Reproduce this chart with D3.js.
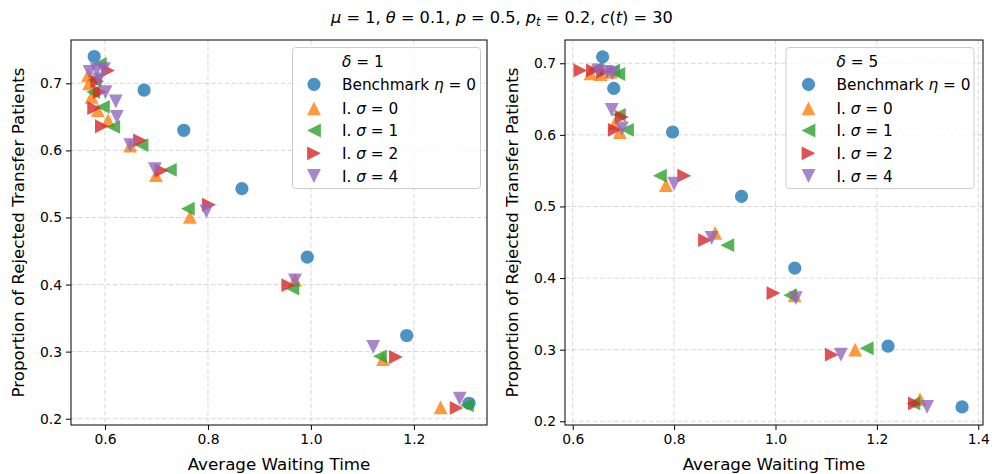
<!DOCTYPE html>
<html><head><meta charset="utf-8">
<script src="https://cdn.jsdelivr.net/npm/d3@7"></script>
<style>body{margin:0;background:#fff;} svg text{font-family:"DejaVu Sans",sans-serif;fill:#000;}</style>
</head><body>
<svg id="c" width="992" height="474"></svg>
<script>
// ---------- data ----------
const seriesNames = ["Benchmark", "I. σ = 0", "I. σ = 1", "I. σ = 2", "I. σ = 4"];
const seriesColors = ["#1f77b4", "#ff7f0e", "#2ca02c", "#d62728", "#9467bd"];
const seriesShapes = ["circle", "up", "left", "right", "down"];

// delta = 1 (left panel)
const benchLeftX = [0.579, 0.676, 0.753, 0.866, 0.993, 1.186, 1.307];
const benchLeftY = [0.740, 0.690, 0.630, 0.543, 0.441, 0.324, 0.223];
const s0LeftX = [0.567, 0.569, 0.574, 0.586, 0.606, 0.649, 0.699, 0.765, 0.969, 1.140, 1.252];
const s0LeftY = [0.712, 0.700, 0.680, 0.660, 0.645, 0.607, 0.563, 0.501, 0.407, 0.289, 0.217];
const s1LeftX = [0.590, 0.580, 0.577, 0.596, 0.616, 0.671, 0.726, 0.761, 0.964, 1.134, 1.303];
const s1LeftY = [0.729, 0.705, 0.687, 0.665, 0.635, 0.608, 0.571, 0.513, 0.394, 0.293, 0.220];
const s2LeftX = [0.606, 0.585, 0.590, 0.579, 0.594, 0.668, 0.710, 0.802, 0.956, 1.165, 1.283];
const s2LeftY = [0.719, 0.703, 0.687, 0.663, 0.636, 0.615, 0.570, 0.519, 0.399, 0.292, 0.216];
const s4LeftX = [0.570, 0.584, 0.598, 0.588, 0.601, 0.621, 0.623, 0.649, 0.697, 0.797, 0.969, 1.121, 1.289];
const s4LeftY = [0.717, 0.720, 0.721, 0.706, 0.687, 0.673, 0.650, 0.608, 0.572, 0.509, 0.406, 0.307, 0.230];

// delta = 5 (right panel)
const benchRightX = [0.659, 0.681, 0.797, 0.933, 1.038, 1.222, 1.368];
const benchRightY = [0.709, 0.665, 0.604, 0.514, 0.414, 0.305, 0.220];
const s0RightX = [0.635, 0.655, 0.675, 0.683, 0.693, 0.784, 0.881, 1.038, 1.157, 1.285];
const s0RightY = [0.686, 0.685, 0.688, 0.616, 0.604, 0.530, 0.463, 0.376, 0.300, 0.231];
const s1RightX = [0.645, 0.680, 0.690, 0.691, 0.707, 0.772, 0.905, 1.029, 1.180, 1.272];
const s1RightY = [0.692, 0.690, 0.685, 0.628, 0.607, 0.543, 0.446, 0.376, 0.302, 0.225];
const s2RightX = [0.615, 0.640, 0.660, 0.697, 0.683, 0.820, 0.861, 0.996, 1.111, 1.275];
const s2RightY = [0.690, 0.690, 0.688, 0.625, 0.607, 0.543, 0.453, 0.379, 0.293, 0.225];
const s4RightX = [0.650, 0.668, 0.678, 0.677, 0.697, 0.800, 0.874, 1.040, 1.129, 1.299];
const s4RightY = [0.690, 0.688, 0.686, 0.635, 0.609, 0.532, 0.456, 0.372, 0.293, 0.220];

// ticks
const leftXTicks = [0.6, 0.8, 1.0, 1.2];
const rightXTicks = [0.6, 0.8, 1.0, 1.2, 1.4];
const yTicks = [0.2, 0.3, 0.4, 0.5, 0.6, 0.7];

// ---------- drawing ----------
const svg = d3.select("#c");
const fmt = d3.format(".1f");
const ALPHA = 0.8;

function shapePath(shape, r) {
  if (shape === "up") return `M0,${-r}L${-r},${r}L${r},${r}Z`;
  if (shape === "down") return `M0,${r}L${-r},${-r}L${r},${-r}Z`;
  if (shape === "left") return `M${-r},0L${r},${-r}L${r},${r}Z`;
  if (shape === "right") return `M${r},0L${-r},${-r}L${-r},${r}Z`;
  return null;
}
function drawMarker(g, shape, color, cx, cy) {
  if (shape === "circle") {
    g.append("circle").attr("cx", cx).attr("cy", cy).attr("r", 6.6)
      .attr("fill", color).attr("fill-opacity", ALPHA);
  } else {
    g.append("path").attr("d", shapePath(shape, 6.9))
      .attr("transform", `translate(${cx},${cy})`)
      .attr("fill", color).attr("fill-opacity", ALPHA);
  }
}

function panel(o) {
  const x = d3.scaleLinear().domain(o.xDomain).range([o.left, o.right]);
  const y = d3.scaleLinear().domain(o.yDomain).range([o.bottom, o.top]);
  const g = svg.append("g");

  // grid
  g.append("g").selectAll("line").data(o.xTicks).join("line")
    .attr("x1", d => x(d)).attr("x2", d => x(d)).attr("y1", o.top).attr("y2", o.bottom)
    .attr("stroke", "#b0b0b0").attr("stroke-opacity", 0.55).attr("stroke-width", 0.9)
    .attr("stroke-dasharray", "4.5,2.5");
  g.append("g").selectAll("line").data(o.yTicks).join("line")
    .attr("x1", o.left).attr("x2", o.right).attr("y1", d => y(d)).attr("y2", d => y(d))
    .attr("stroke", "#b0b0b0").attr("stroke-opacity", 0.55).attr("stroke-width", 0.9)
    .attr("stroke-dasharray", "4.5,2.5");

  // markers
  o.series.forEach((s, i) => {
    const mg = g.append("g");
    s.xs.forEach((xv, j) => drawMarker(mg, seriesShapes[i], seriesColors[i], x(xv), y(s.ys[j])));
  });

  // axes
  const xa = g.append("g").attr("transform", `translate(0,${o.bottom})`)
    .call(d3.axisBottom(x).tickValues(o.xTicks).tickFormat(fmt).tickSize(5).tickSizeOuter(0).tickPadding(4));
  const ya = g.append("g").attr("transform", `translate(${o.left},0)`)
    .call(d3.axisLeft(y).tickValues(o.yTicks).tickFormat(fmt).tickSize(5).tickSizeOuter(0).tickPadding(4));
  [xa, ya].forEach(a => {
    a.select(".domain").remove();
    a.selectAll("text").attr("font-size", 13.9).attr("font-family", "DejaVu Sans").attr("fill", "#000");
    a.selectAll("line").attr("stroke", "#000").attr("stroke-width", 1);
  });
  g.append("rect").attr("x", o.left).attr("y", o.top)
    .attr("width", o.right - o.left).attr("height", o.bottom - o.top)
    .attr("fill", "none").attr("stroke", "#000").attr("stroke-width", 1);

  // axis labels
  g.append("text").attr("x", (o.left + o.right) / 2).attr("y", 469.5)
    .attr("text-anchor", "middle").attr("font-size", 16.7).text("Average Waiting Time");
  g.append("text").attr("transform", `translate(${o.ylabelX},${(o.top + o.bottom) / 2}) rotate(-90)`)
    .attr("text-anchor", "middle").attr("font-size", 16.7).text("Proportion of Rejected Transfer Patients");

  // legend
  const L = g.append("g");
  L.append("rect").attr("x", o.legX).attr("y", 47.5).attr("width", o.legW).attr("height", 141)
    .attr("rx", 3).attr("fill", "#fff").attr("fill-opacity", 0.8)
    .attr("stroke", "#cccccc").attr("stroke-width", 1);
  const tt = L.append("text").attr("x", o.legText).attr("y", 67).attr("font-size", 15.3);
  tt.append("tspan").attr("font-style", "italic").text("δ");
  tt.append("tspan").text(" = " + o.delta);
  const rowsY = [84.3, 108.3, 130.5, 153.3, 176];
  seriesNames.forEach((nm, i) => {
    drawMarker(L, seriesShapes[i], seriesColors[i], o.legMarker, rowsY[i]);
    const t = L.append("text").attr("x", o.legText).attr("y", rowsY[i] + 5.5).attr("font-size", 15.3);
    if (i === 0) {
      t.append("tspan").text("Benchmark ");
      t.append("tspan").attr("font-style", "italic").text("η");
      t.append("tspan").text(" = 0");
    } else {
      t.append("tspan").text("I. ");
      t.append("tspan").attr("font-style", "italic").text("σ");
      t.append("tspan").text(nm.slice(4));
    }
  });
}

panel({
  left: 71, right: 487, top: 40, bottom: 425,
  xDomain: [0.534, 1.342], yDomain: [0.1906, 0.7646],
  xTicks: leftXTicks, yTicks: yTicks, ylabelX: 24,
  legX: 292.5, legW: 188, legMarker: 314, legText: 342, delta: 1,
  series: [
    {xs: benchLeftX, ys: benchLeftY},
    {xs: s0LeftX, ys: s0LeftY},
    {xs: s1LeftX, ys: s1LeftY},
    {xs: s2LeftX, ys: s2LeftY},
    {xs: s4LeftX, ys: s4LeftY}
  ]
});
panel({
  left: 565, right: 983, top: 40, bottom: 425,
  xDomain: [0.5848, 1.4093], yDomain: [0.1948, 0.7325],
  xTicks: rightXTicks, yTicks: yTicks, ylabelX: 518,
  legX: 786, legW: 188, legMarker: 808.5, legText: 836.5, delta: 5,
  series: [
    {xs: benchRightX, ys: benchRightY},
    {xs: s0RightX, ys: s0RightY},
    {xs: s1RightX, ys: s1RightY},
    {xs: s2RightX, ys: s2RightY},
    {xs: s4RightX, ys: s4RightY}
  ]
});

// title
const title = svg.append("text").attr("x", 502).attr("y", 23).attr("text-anchor", "middle").attr("font-size", 16.2);
const parts = [["μ", 1], [" = 1, ", 0], ["θ", 1], [" = 0.1, ", 0], ["p", 1], [" = 0.5, ", 0], ["p", 1], ["t", 2], [" = 0.2, ", 0], ["c", 1], ["(", 0], ["t", 1], [")", 0], [" = 30", 0]];
let prevSub = false;
parts.forEach(([s, k]) => {
  const ts = title.append("tspan").text(s);
  if (k >= 1) ts.attr("font-style", "italic");
  if (k === 2) { ts.attr("font-size", 11.5).attr("dy", 3); prevSub = true; }
  else if (prevSub) { ts.attr("dy", -3); prevSub = false; }
});
</script>
</body></html>
